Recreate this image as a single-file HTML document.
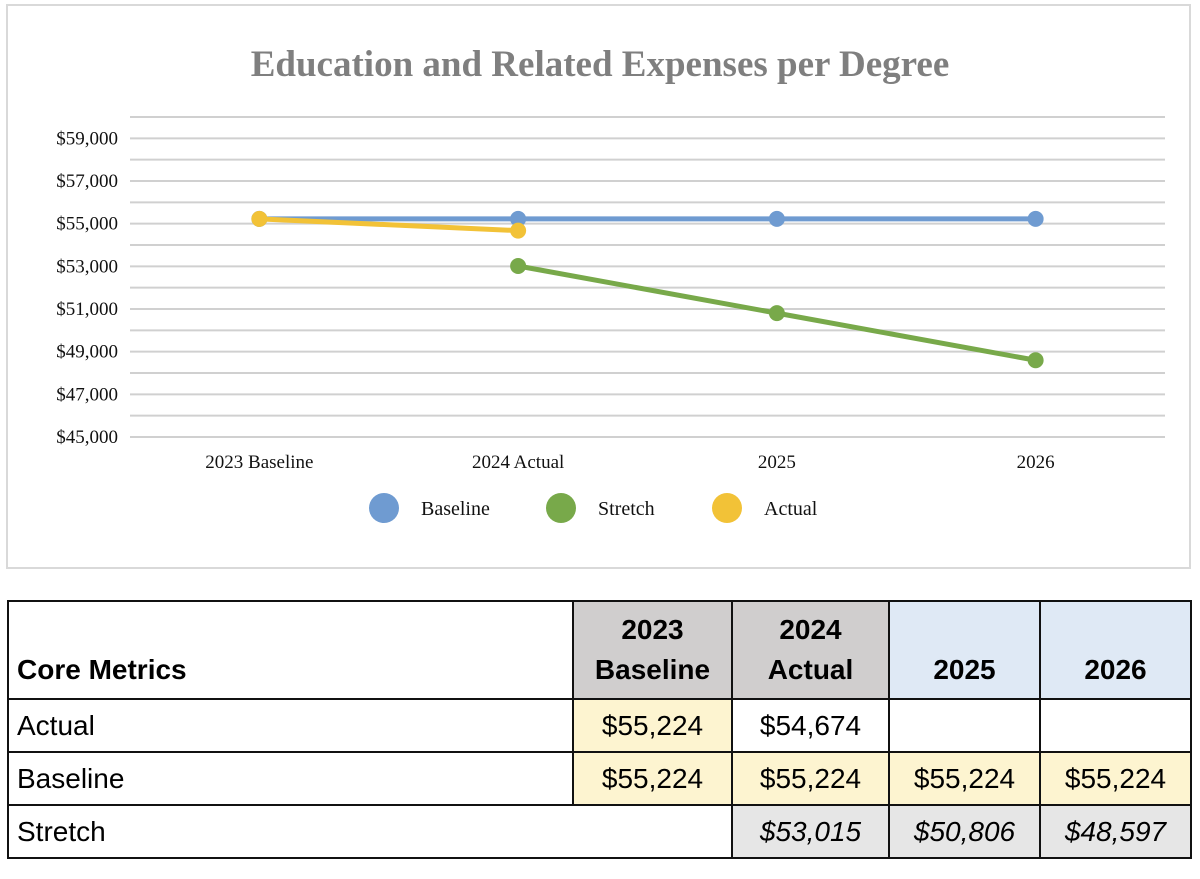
<!DOCTYPE html>
<html><head><meta charset="utf-8"><style>
body{margin:0;width:1200px;height:879px;background:#fff;position:relative;overflow:hidden}
svg text{font-family:"Liberation Serif",serif}
table{position:absolute;left:7px;top:600px;border-collapse:collapse;font-family:"Liberation Sans","DejaVu Sans",sans-serif;font-size:28px}
td{border:2px solid #111;padding:0 8px;height:53px;box-sizing:border-box}
.h td{height:98px;font-weight:bold;text-align:center;line-height:40px;vertical-align:bottom;padding-bottom:8px}
.y{background:#fdf4d0;text-align:center}.g{background:#e6e6e6;text-align:center;font-style:italic}
.gh{background:#d0cece}.bh{background:#dfe9f5}.c{text-align:center}
</style></head><body>
<svg width="1200" height="580" style="position:absolute;left:0;top:0">
<rect x="7" y="5" width="1183" height="563" fill="#fff" stroke="#d9d9d9" stroke-width="2"/>
<text x="600" y="76" text-anchor="middle" font-size="37" font-weight="bold" fill="#7f7f7f">Education and Related Expenses per Degree</text>
<g id="grid"></g><g id="lines"></g><g id="legend"></g>
</svg>
<script>
const categories=["2023 Baseline","2024 Actual","2025","2026"];
const baseline=[55224,55224,55224,55224];
const stretch=[null,53015,50806,48597];
const actual=[55224,54674,null,null];
const yTicks=[45000,47000,49000,51000,53000,55000,57000,59000];
const ns="http://www.w3.org/2000/svg";
const yMin=45000,yMax=60000,yTop=117,yBot=437,xL=130,xR=1165;
const y=v=>yBot-(v-yMin)/(yMax-yMin)*(yBot-yTop);
const x=i=>xL+(i+0.5)*(xR-xL)/categories.length;
function mk(t,a,p){const e=document.createElementNS(ns,t);for(const k in a)e.setAttribute(k,a[k]);p.appendChild(e);return e;}
const grid=document.getElementById('grid');
for(let v=yMin;v<=yMax;v+=1000){
const l=mk('line',{x1:xL,x2:xR,y1:y(v),y2:y(v),stroke:'#d0d0d0','stroke-width':2},grid);

}
yTicks.forEach(v=>{const t=mk('text',{x:118,y:y(v)+6,'text-anchor':'end','font-size':19,fill:'#111'},grid);t.textContent='$'+v.toLocaleString('en-US');

});
categories.forEach((c,i)=>{const t=mk('text',{x:x(i),y:468,'text-anchor':'middle','font-size':19,fill:'#111'},grid);t.textContent=c;

});
const lines=document.getElementById('lines');
function series(d,col,name){let pts=[];d.forEach((v,i)=>{if(v!=null)pts.push([x(i),y(v)]);});
const p=mk('polyline',{points:pts.map(q=>q.join(',')).join(' '),fill:'none',stroke:col,'stroke-width':5,'stroke-linejoin':'round'},lines);


pts.forEach(q=>{const c=mk('circle',{cx:q[0],cy:q[1],r:8,fill:col},lines);

});}
series(baseline,'#6f9bd1','baseline');series(stretch,'#78a94a','stretch');series(actual,'#f2c237','actual');
const lg=document.getElementById('legend');
[['Baseline','#6f9bd1',384],['Stretch','#78a94a',561],['Actual','#f2c237',727]].forEach(([n,c,cx])=>{
const g=mk('g',{},lg);


mk('circle',{cx:cx,cy:508,r:15,fill:c},g);
const t=mk('text',{x:cx+37,y:515,'font-size':20,fill:'#111'},g);t.textContent=n;});
</script>
<table>
<tr class="h"><td style="width:565px;text-align:left">Core Metrics</td><td class="gh" style="width:159px">2023<br>Baseline</td><td class="gh" style="width:157px">2024<br>Actual</td><td class="bh" style="width:151px">2025</td><td class="bh" style="width:151px">2026</td></tr>
<tr><td>Actual</td><td class="y">$55,224</td><td class="c">$54,674</td><td></td><td></td></tr>
<tr><td>Baseline</td><td class="y">$55,224</td><td class="y">$55,224</td><td class="y">$55,224</td><td class="y">$55,224</td></tr>
<tr><td colspan="2">Stretch</td><td class="g">$53,015</td><td class="g">$50,806</td><td class="g">$48,597</td></tr>
</table>
</body></html>
